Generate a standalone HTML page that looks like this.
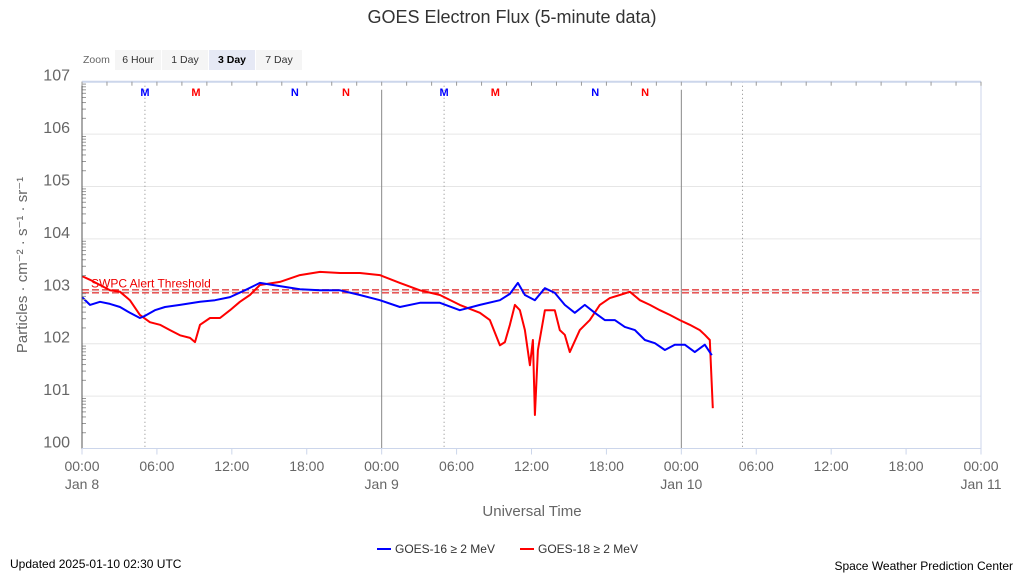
<!DOCTYPE html>
<html><head><meta charset="utf-8"><style>
body{margin:0;background:#fff;font-family:"Liberation Sans",sans-serif}
</style></head><body>
<svg id="c" width="1024" height="576" xmlns="http://www.w3.org/2000/svg" font-family="Liberation Sans, sans-serif">
<text x="512" y="23" text-anchor="middle" font-size="18" fill="#333">GOES Electron Flux (5-minute data)</text>
<g font-size="10.5">
<text x="83" y="63" fill="#666">Zoom</text>
<rect x="115" y="50" width="46" height="20" fill="#f5f5f5"/><text x="138" y="63" text-anchor="middle" fill="#333">6 Hour</text>
<rect x="162" y="50" width="46" height="20" fill="#f5f5f5"/><text x="185" y="63" text-anchor="middle" fill="#333">1 Day</text>
<rect x="209" y="50" width="46" height="20" fill="#e6e9f5"/><text x="232" y="63" text-anchor="middle" fill="#000" font-weight="bold">3 Day</text>
<rect x="256" y="50" width="46" height="20" fill="#f5f5f5"/><text x="279" y="63" text-anchor="middle" fill="#333">7 Day</text>
</g>
<g id="grid"></g><g id="marks"></g><g id="axes"></g>
<text transform="translate(27,265) rotate(-90)" text-anchor="middle" font-size="15" fill="#666">Particles · cm⁻² · s⁻¹ · sr⁻¹</text>
<text x="532" y="516" text-anchor="middle" font-size="15" fill="#666">Universal Time</text>
<g font-size="12" fill="#333">
<g><line x1="377" y1="549" x2="391" y2="549" stroke="#0000ff" stroke-width="2"/><text x="395" y="553">GOES-16 ≥ 2 MeV</text></g>
<g><line x1="520" y1="549" x2="534" y2="549" stroke="#ff0000" stroke-width="2"/><text x="538" y="553">GOES-18 ≥ 2 MeV</text></g>
</g>
<text x="10" y="568" font-size="12" fill="#000">Updated 2025-01-10 02:30 UTC</text>
<text x="1013" y="570" text-anchor="end" font-size="12" fill="#000">Space Weather Prediction Center</text>
</svg>
<script>
const g16Hours=[0,0.64,1.44,2.24,3.04,3.84,4.64,5.04,5.84,6.65,7.85,9.45,10.65,11.85,13.05,14.25,15.85,17.45,19.06,20.66,22.26,23.86,25.46,27.06,28.66,30.26,31.87,33.47,34.27,34.91,35.47,36.27,37.07,37.87,38.67,39.47,40.27,41.07,41.87,42.67,43.47,44.28,45.08,45.88,46.68,47.48,48.28,49.08,49.88,50.44];
const g16Exp=[2.89,2.74,2.80,2.76,2.70,2.59,2.49,2.53,2.64,2.70,2.74,2.80,2.83,2.89,3.02,3.16,3.10,3.04,3.02,3.02,2.93,2.83,2.70,2.78,2.78,2.64,2.74,2.83,2.95,3.16,2.93,2.83,3.06,2.97,2.74,2.59,2.74,2.59,2.45,2.45,2.32,2.26,2.07,2.01,1.88,1.98,1.98,1.84,1.98,1.78];
const g18Hours=[0,0.64,1.44,2.24,3.04,3.84,4.64,5.44,6.25,7.05,7.85,8.65,9.05,9.45,10.25,11.05,11.85,12.65,13.45,14.25,15.85,17.45,19.06,20.66,22.26,23.86,25.46,27.06,28.66,30.26,31.87,32.67,33.47,33.87,34.27,34.67,35.07,35.47,35.87,36.11,36.27,36.51,37.07,37.87,38.27,38.67,39.07,39.87,40.67,41.47,42.27,43.07,43.88,44.68,45.48,46.28,47.08,47.88,48.68,49.48,49.88,50.28,50.52];
const g18Exp=[3.29,3.22,3.12,3.02,2.99,2.83,2.55,2.41,2.36,2.26,2.16,2.11,2.03,2.36,2.49,2.49,2.64,2.80,2.93,3.12,3.18,3.31,3.37,3.35,3.35,3.31,3.16,3.02,2.93,2.74,2.59,2.45,1.97,2.03,2.36,2.74,2.64,2.26,1.59,2.07,0.64,1.88,2.64,2.64,2.26,2.17,1.84,2.26,2.45,2.74,2.87,2.93,2.99,2.83,2.74,2.64,2.55,2.45,2.36,2.26,2.17,2.07,0.77];
const yTickExp=[0,1,2,3,4,5,6,7];
const xTickHours=[0,6,12,18,24,30,36,42,48,54,60,66,72];
const xTickLabels=["00:00","06:00","12:00","18:00","00:00","06:00","12:00","18:00","00:00","06:00","12:00","18:00","00:00"];
const xTickDates=["Jan 8","","","","Jan 9","","","","Jan 10","","","","Jan 11"];
const thresholdExp=3;
const dayLines=[24,48];
const dottedLines=[5.04,29,52.9];
const eventHours=[5.04,9.13,17.05,21.14,29,33.1,41.1,45.1];
const eventLabels=["M","M","N","N","M","M","N","N"];
const eventSat=[16,18,16,18,16,18,16,18];

const X0=82,X1=981,Y0=448.5,Y1=81.7;
const x=h=>X0+(X1-X0)*h/72;
const y=e=>Y0-(Y0-Y1)*e/7;
const NS="http://www.w3.org/2000/svg";
function mk(p,t,a){const e=document.createElementNS(NS,t);for(const k in a)e.setAttribute(k,a[k]);p.appendChild(e);return e;}
const grid=document.getElementById('grid'),marks=document.getElementById('marks'),axes=document.getElementById('axes');
yTickExp.forEach(e=>{
 const l=mk(grid,'line',{x1:X0,x2:X1,y1:y(e),y2:y(e),stroke:'#e6e6e6'});
 
 
 const t=mk(axes,'text',{x:70,y:y(e)-1,'text-anchor':'end','font-size':16,fill:'#666'});
 
 
 t.textContent='10'+e;
 if(e<7)for(let m=2;m<10;m++){const yy=y(e+Math.log10(m));const tk=mk(axes,'line',{x1:X0,x2:X0+4,y1:yy,y2:yy,stroke:'#999'});
 
 }
});
dottedLines.forEach(h=>{const l=mk(grid,'line',{x1:x(h),x2:x(h),y1:Y1,y2:Y0,stroke:'#888','stroke-dasharray':'1,3'});
 
 });
dayLines.forEach(h=>{const l=mk(grid,'line',{x1:x(h),x2:x(h),y1:Y1+8,y2:Y0,stroke:'#888'});
 
 });
eventHours.forEach((h,i)=>{const t=mk(marks,'text',{x:x(h),y:96,'text-anchor':'middle','font-size':11,'font-weight':'bold',fill:eventSat[i]==16?'#0000ff':'#ff0000'});
 
 
 t.textContent=eventLabels[i];});
const ty=y(thresholdExp);
[ty-1.5,ty+1.5].forEach(v=>{const l=mk(marks,'line',{x1:X0,x2:X1,y1:v,y2:v,stroke:'#e34040','stroke-width':1.3,'stroke-dasharray':'7,3'});
 
 });
const tl=mk(marks,'text',{x:91,y:ty-4,'font-size':12,fill:'#e00'});


tl.textContent='SWPC Alert Threshold';
function series(hs,es,col,name){const d=hs.map((h,i)=>(i?'L':'M')+x(h).toFixed(1)+','+y(es[i]).toFixed(1)).join('');
 const p=mk(marks,'path',{d:d,fill:'none',stroke:col,'stroke-width':2,'stroke-linejoin':'round'});
 
 }
series(g18Hours,g18Exp,'#ff0000','goes18-line');
series(g16Hours,g16Exp,'#0000ff','goes16-line');
const ax=mk(axes,'line',{x1:X0,x2:X0,y1:Y1,y2:Y0,stroke:'#555'});


const bx=mk(axes,'line',{x1:X0,x2:X1,y1:Y0,y2:Y0,stroke:'#ccd6eb'});


const tp=mk(axes,'line',{x1:X0,x2:X1,y1:Y1,y2:Y1,stroke:'#ccd6eb','stroke-width':2});


const rb=mk(axes,'line',{x1:X1,x2:X1,y1:Y1,y2:Y0,stroke:'#ccd6eb'});


for(let h=0;h<=72;h+=2){const t=mk(axes,'line',{x1:x(h),x2:x(h),y1:Y1,y2:Y1+4,stroke:'#999'});
 
 }
xTickHours.forEach((h,i)=>{
 const tk=mk(axes,'line',{x1:x(h),x2:x(h),y1:Y0,y2:Y0+6,stroke:'#ccd6eb'});
 
 
 const t=mk(axes,'text',{x:x(h),y:471,'text-anchor':'middle','font-size':14,fill:'#666'});
 
 
 t.textContent=xTickLabels[i];
 if(xTickDates[i]){const d=mk(axes,'text',{x:x(h),y:489,'text-anchor':'middle','font-size':14,fill:'#666'});
 
 
 d.textContent=xTickDates[i];}
});
</script>
</body></html>
